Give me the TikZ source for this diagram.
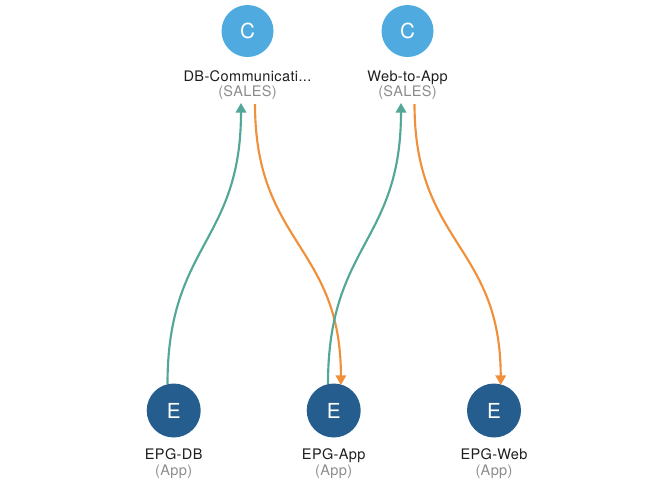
\documentclass[tikz,border=0pt]{standalone}
\usepackage{fontspec}
\setmainfont{TeX Gyre Heros}
\newfontfamily\lblfont[LetterSpace=2.5]{TeX Gyre Heros}
\usetikzlibrary{arrows.meta,calc}
\definecolor{cblue}{HTML}{4FABDF}
\definecolor{eblue}{HTML}{255E8E}
\definecolor{tealc}{HTML}{52A797}
\definecolor{orangec}{HTML}{F0903A}
\definecolor{graytxt}{HTML}{8C8C8C}
\definecolor{blacktxt}{HTML}{1E1E1E}
\tikzset{
  ctrnode/.style={circle,fill=cblue,minimum size=39pt,inner sep=0pt,text=white,font=\fontsize{15.5}{15.5}\selectfont},
  epgnode/.style={circle,fill=eblue,minimum size=40.5pt,inner sep=0pt,text=white,font=\fontsize{15.5}{15.5}\selectfont},
  lbltext/.style={anchor=base,text=blacktxt,font=\lblfont\fontsize{10.9}{11}\selectfont,inner sep=0pt},
  subtext/.style={anchor=base,text=graytxt,font=\lblfont\fontsize{10.9}{11}\selectfont,inner sep=0pt},
  tealarrow/.style={draw=tealc,line width=1.6pt,-{Triangle[width=7.8pt,length=7.2pt]}},
  orangearrow/.style={draw=orangec,line width=1.6pt,-{Triangle[width=7.8pt,length=7.2pt]}}
}
\begin{document}
\begin{tikzpicture}[x=0.75pt,y=-0.75pt]
\useasboundingbox (0,0) rectangle (652,490);
% contract nodes
\node[ctrnode] (c1) at (247.5,31) {C};
\node[ctrnode] (c2) at (407.5,31) {C};
\node[lbltext] (c1n) at (247.5,81) {DB-Communicati...};
\node[subtext] (c1s) at (247.5,96.5) {(SALES)};
\node[lbltext] (c2n) at (407.5,81) {Web-to-App};
\node[subtext] (c2s) at (407.5,96.5) {(SALES)};
% EPG nodes
\node[epgnode] (e1) at (173.7,410.5) {E};
\node[epgnode] (e2) at (333.7,410.5) {E};
\node[epgnode] (e3) at (494,410.5) {E};
\node[lbltext] (e1n) at (173.7,459.5) {EPG-DB};
\node[subtext] (e1s) at (173.7,475) {(App)};
\node[lbltext] (e2n) at (333.7,459.5) {EPG-App};
\node[subtext] (e2s) at (333.7,475) {(App)};
\node[lbltext] (e3n) at (494,459.5) {EPG-Web};
\node[subtext] (e3s) at (494,475) {(App)};
% connector end points
\coordinate (c1in) at ($(c1)+(-6.5,72)$);
\coordinate (c1out) at ($(c1)+(7.5,73)$);
\coordinate (c2in) at ($(c2)+(-6.5,72)$);
\coordinate (c2out) at ($(c2)+(7,73)$);
\coordinate (e1out) at ($(e1)+(-6.2,-26.5)$);
\coordinate (e2out) at ($(e2)+(-5.7,-26.5)$);
\coordinate (e2in) at ($(e2)+(7.2,-25.5)$);
\coordinate (e3in) at ($(e3)+(6.7,-25.5)$);
% connectors
\draw[tealarrow] (e1out) .. controls ($(e1out)+(0,-140)$) and ($(c1in)+(0,140)$) .. (c1in);
\draw[orangearrow] (c1out) .. controls ($(c1out)+(0,140)$) and ($(e2in)+(0,-140)$) .. (e2in);
\draw[tealarrow] (e2out) .. controls ($(e2out)+(0,-140)$) and ($(c2in)+(0,140)$) .. (c2in);
\draw[orangearrow] (c2out) .. controls ($(c2out)+(0,140)$) and ($(e3in)+(0,-140)$) .. (e3in);
\end{tikzpicture}
\end{document}
